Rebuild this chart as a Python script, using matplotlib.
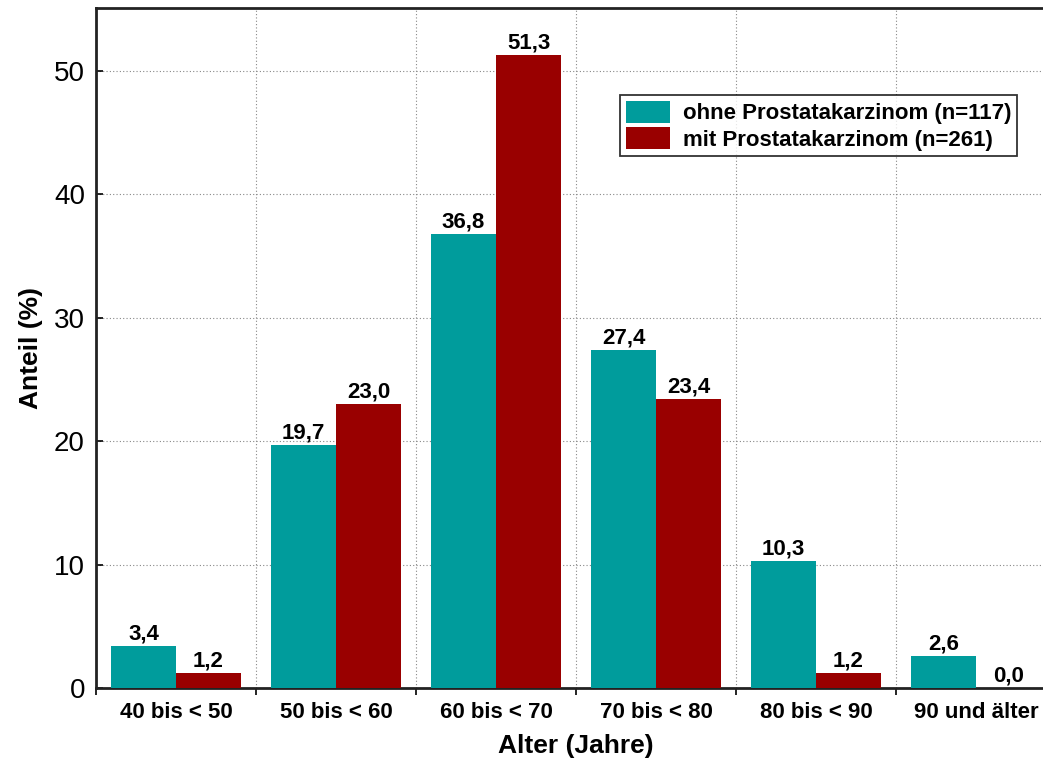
import numpy as np
import matplotlib.pyplot as plt
from matplotlib.ticker import FixedLocator

plt.rcParams['font.family'] = ['Liberation Sans', 'DejaVu Sans']

categories = ["40 bis < 50", "50 bis < 60", "60 bis < 70", "70 bis < 80", "80 bis < 90", "90 und älter"]
ohne = [3.4, 19.7, 36.8, 27.4, 10.3, 2.6]
mit = [1.2, 23.0, 51.3, 23.4, 1.2, 0.0]
ohne_label = "ohne Prostatakarzinom (n=117)"
mit_label = "mit Prostatakarzinom (n=261)"

teal = "#009c9c"
red = "#990000"

fig = plt.figure(figsize=(10.43, 7.69), dpi=100)
# right edge runs off the picture, as in the reference
ax = fig.add_axes([96 / 1043, 81 / 769, 960 / 1043, 680 / 769])

x = np.arange(len(categories))
w = 0.406
b1 = ax.bar(x - w / 2, ohne, w, color=teal, label=ohne_label, zorder=3)
b2 = ax.bar(x + w / 2, mit, w, color=red, label=mit_label, zorder=3)

def fmt(v):
    return f"{v:.1f}".replace(".", ",")

for bars, vals in [(b1, ohne), (b2, mit)]:
    for r, v in zip(bars, vals):
        ax.annotate(fmt(v), (r.get_x() + r.get_width() / 2, v), xytext=(0, 1),
                    textcoords="offset points", ha="center", va="bottom",
                    fontsize=16, fontweight="bold", zorder=4)

ax.set_xlim(-0.5, len(categories) - 0.5)
ax.set_ylim(0, 55.1)
ax.set_yticks([0, 10, 20, 30, 40, 50])
ax.set_xticks(x)
ax.set_xticklabels(categories, fontsize=16, fontweight="bold")
ax.xaxis.set_minor_locator(FixedLocator(np.arange(-0.5, len(categories), 1.0)))
ax.tick_params(axis="x", which="major", length=0, pad=10)
ax.tick_params(axis="x", which="minor", length=5, width=1.2, direction="out")
ax.tick_params(axis="y", labelsize=20, length=5, width=1.2, direction="in", pad=8)

ax.grid(axis="y", linestyle=(0, (1, 2)), color="#888888", linewidth=0.8, zorder=0)
ax.grid(axis="x", which="minor", linestyle=(0, (1, 2)), color="#888888", linewidth=0.8, zorder=0)

for s in ["left", "bottom", "top"]:
    ax.spines[s].set_linewidth(2)
    ax.spines[s].set_color("#222222")
ax.spines["right"].set_visible(False)

ax.set_xlabel("Alter (Jahre)", fontsize=19, fontweight="bold", labelpad=8)
ax.set_ylabel("Anteil (%)", fontsize=19, fontweight="bold", labelpad=8)

leg = ax.legend(loc="upper left", bbox_to_anchor=(524 / 960, 593 / 680),
                prop={"weight": "bold", "size": 16}, frameon=True, fancybox=False,
                edgecolor="black", handlelength=2.0, handleheight=1.2, borderpad=0.25,
                labelspacing=0.1, handletextpad=0.6, borderaxespad=0)
leg.get_frame().set_linewidth(1.3)

fig.savefig("out.png", dpi=100)
